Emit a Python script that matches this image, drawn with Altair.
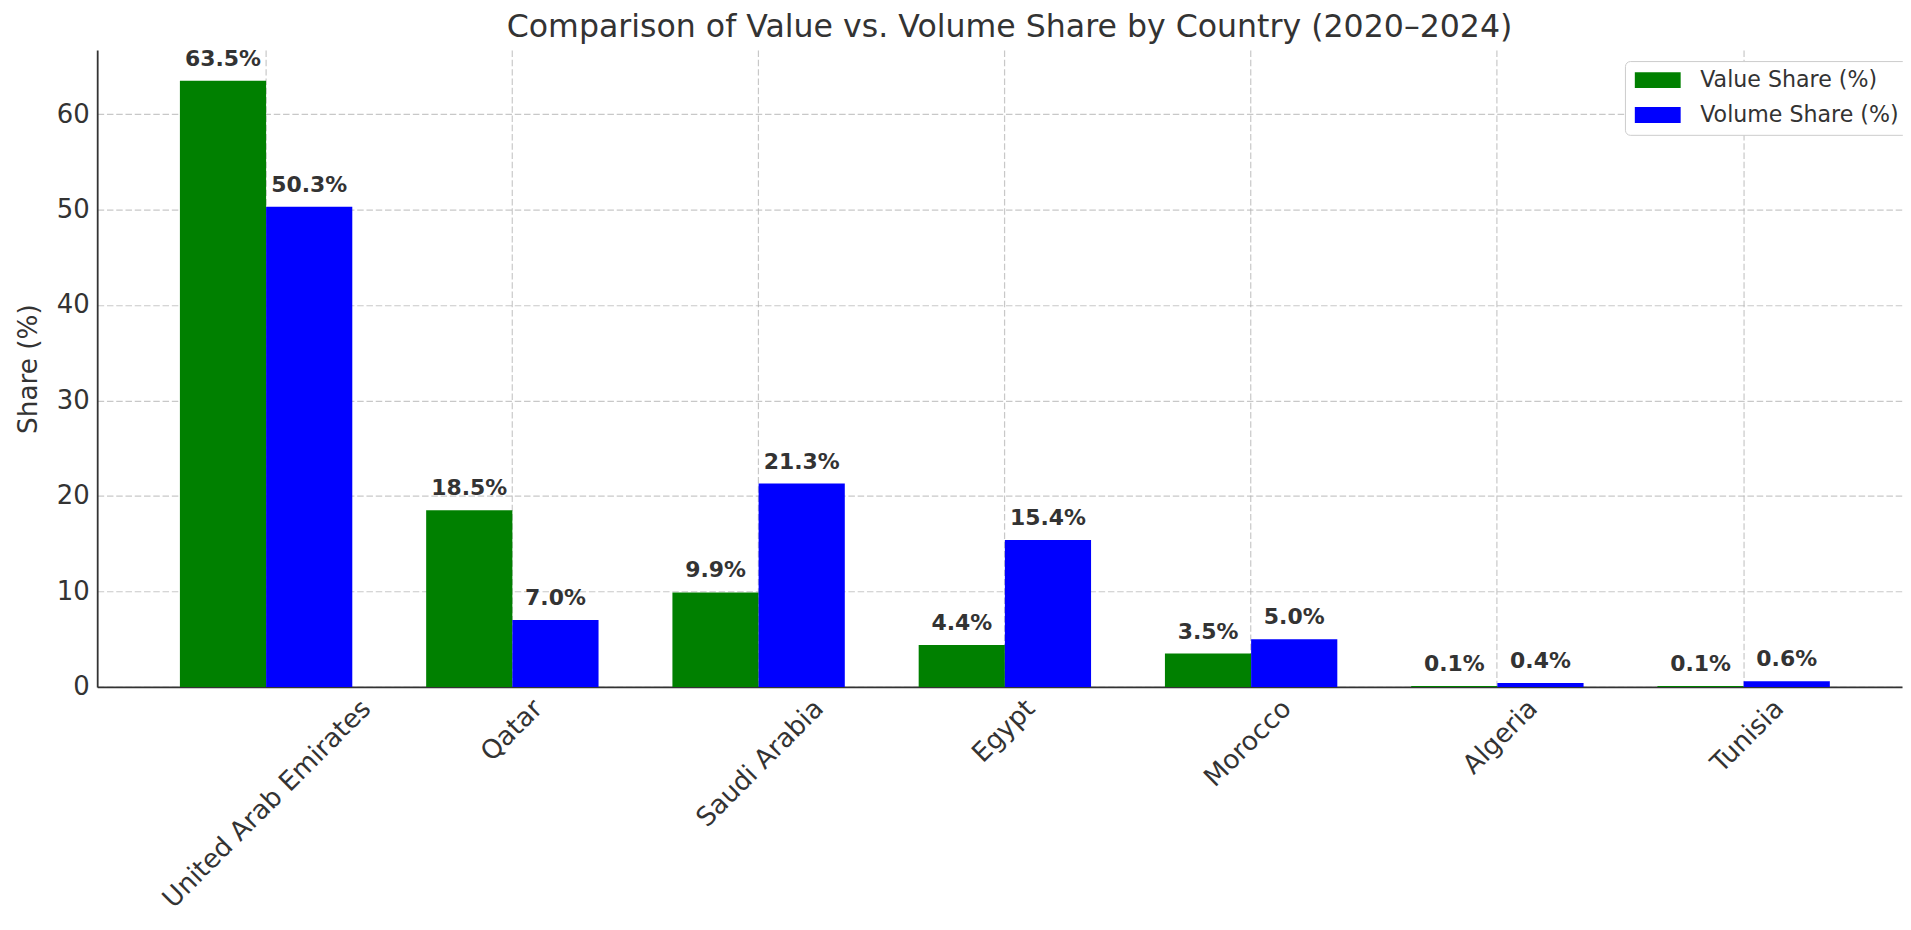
import altair as alt
import pandas as pd

countries = ["United Arab Emirates", "Qatar", "Saudi Arabia", "Egypt", "Morocco", "Algeria", "Tunisia"]
value_share = [63.5, 18.5, 9.9, 4.4, 3.5, 0.1, 0.1]
volume_share = [50.3, 7.0, 21.3, 15.4, 5.0, 0.4, 0.6]
series_names = ["Value Share (%)", "Volume Share (%)"]
series_colors = ["#008000", "#0000ff"]
y_ticks = [0, 10, 20, 30, 40, 50, 60]

rows = []
for c, v, w in zip(countries, value_share, volume_share):
    rows.append({"country": c, "series": series_names[0], "share": v})
    rows.append({"country": c, "series": series_names[1], "share": w})
df = pd.DataFrame(rows)

FONT = "DejaVu Sans"
TXT = "#333333"

x_enc = alt.X(
    "country:N",
    sort=countries,
    title=None,
    scale=alt.Scale(paddingInner=0.3, paddingOuter=0.3145, align=0.534),
    axis=alt.Axis(
        labelAngle=315,
        labelAlign="right",
        labelBaseline="top",
        labelFontSize=26.4,
        labelPadding=8,
        labelLimit=0,
        labelOffset={"expr": "length(datum.label) * 5.0 - 8.3"},
        grid=True,
        bandPosition=0.5,
        ticks=False,
        domainColor=TXT,
        domainWidth=1.8,
    ),
)
xo_enc = alt.XOffset("series:N", sort=series_names)
y_enc = alt.Y(
    "share:Q",
    title="Share (%)",
    scale=alt.Scale(domain=[0, 66.7], nice=False, zero=True),
    axis=alt.Axis(
        values=y_ticks,
        labelFontSize=26,
        labelPadding=8,
        ticks=False,
        grid=True,
        titleFontSize=26.4,
        titleFontWeight="normal",
        titlePadding=14,
        domainColor=TXT,
        domainWidth=1.8,
    ),
)

bars = alt.Chart(df).mark_bar().encode(
    x=x_enc,
    xOffset=xo_enc,
    y=y_enc,
    color=alt.Color(
        "series:N",
        sort=series_names,
        scale=alt.Scale(domain=series_names, range=series_colors),
        legend=alt.Legend(
            title=None,
            orient="none",
            legendX=1533,
            legendY=11,
            labelFontSize=22.2,
            labelColor=TXT,
            labelFont=FONT,
            labelLimit=0,
            symbolType="M-1,-0.87L4,-0.87L4,0.87L-1,0.87Z",
            symbolSize=338.6,
            symbolStrokeWidth=0,
            labelOffset=45.3,
            rowPadding=12,
            padding=8,
            fillColor="white",
            strokeColor="#cccccc",
            cornerRadius=5,
            zindex=2,
        ),
    ),
)

labels = alt.Chart(df).transform_calculate(
    lbl="format(datum.share, '.1f') + '%'"
).mark_text(
    font=FONT, fontSize=22, fontWeight="bold", color=TXT, baseline="alphabetic", dy=-15
).encode(
    x=alt.X("country:N", sort=countries),
    xOffset=xo_enc,
    y=alt.Y("share:Q"),
    text="lbl:N",
)

chart = alt.layer(bars, labels).properties(
    width=1811,
    height=639,
    autosize=alt.AutoSizeParams(type="none"),
    padding={"left": 89.5, "top": 40.7, "right": 1, "bottom": 229},
    title=alt.Title(
        "Comparison of Value vs. Volume Share by Country (2020–2024)",
        fontSize=31.7,
        fontWeight="normal",
        color=TXT,
        font=FONT,
        anchor="middle",
        frame="group",
        offset=4.5,
        dx=10,
    ),
).configure_view(strokeWidth=0).configure_axis(
    labelFont=FONT,
    titleFont=FONT,
    labelColor=TXT,
    titleColor=TXT,
    gridColor="#b0b0b0",
    gridOpacity=0.7,
    gridWidth=1.2,
    gridDash=[6.5, 2.8],
    zindex=1,
)

chart.save("out.html", embed_options={"renderer": "svg", "actions": False})
